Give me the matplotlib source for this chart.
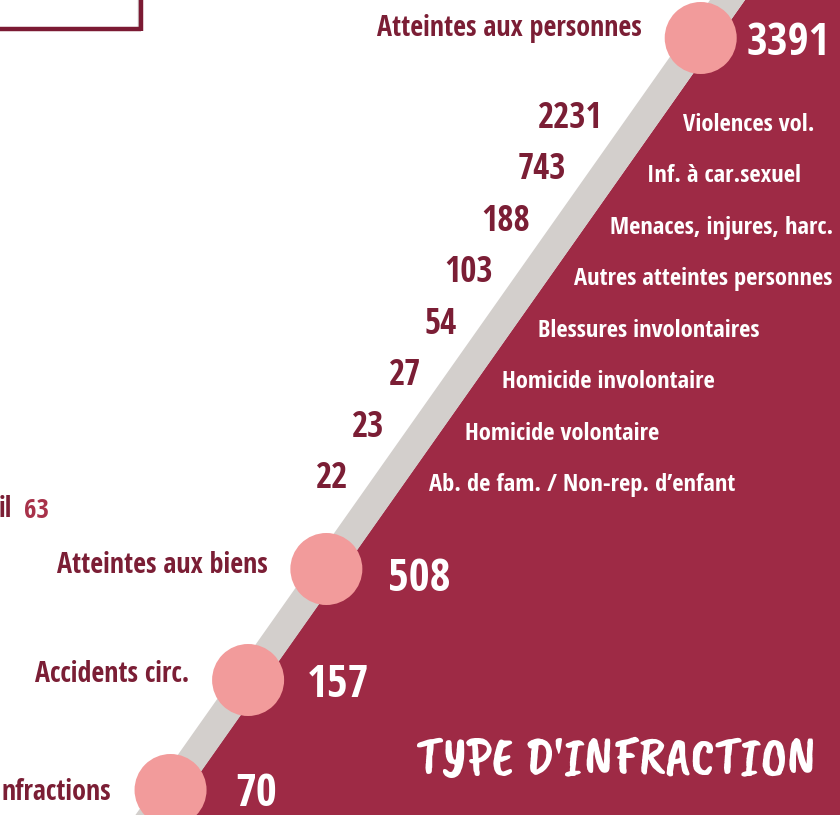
import numpy as np
import matplotlib.pyplot as plt
from matplotlib.patches import Polygon, Circle

# ---------------------------------------------------------------
# data
# ---------------------------------------------------------------
main_labels = ["Atteintes aux personnes", "Atteintes aux biens", "Accidents circ.", "nfractions"]
main_values = [3391, 508, 157, 70]

sub_labels = ["Violences vol.", "Inf. à car.sexuel", "Menaces, injures, harc.",
              "Autres atteintes personnes", "Blessures involontaires",
              "Homicide involontaire", "Homicide volontaire",
              "Ab. de fam. / Non-rep. d\u2019enfant"]
sub_values = [2231, 743, 188, 103, 54, 27, 23, 22]

side_label = "il"
side_value = 63
title = "TYPE D'INFRACTION"

# ---------------------------------------------------------------
# style
# ---------------------------------------------------------------
MAROON = "#9e2a45"
DARK = "#7b1e35"
GRAY = "#d3cfcc"
PINK = "#f29b9b"
RED = "#a8324a"

plt.rcParams["font.family"] = ["Open Sans Condensed", "DejaVu Sans"]

W, H = 840, 815
PX = 72 / 100  # px -> pt at dpi 100

# diagonal band: x of its right (maroon) edge at height y
band_top = 745
band_slope = 0.705
band_w = 35


def x_right(y):
    return band_top - band_slope * y


def x_center(y):
    return x_right(y) - band_w / 2


fig = plt.figure(figsize=(W / 100, H / 100), dpi=100)
ax = fig.add_axes([0, 0, 1, 1])
ax.set_xlim(0, W)
ax.set_ylim(H, 0)
ax.axis("off")

# maroon area and grey band
ax.add_patch(Polygon([(x_right(0), 0), (W, 0), (W, H), (x_right(H), H)],
                     closed=True, color=MAROON, lw=0))
ax.add_patch(Polygon([(x_right(0) - band_w, 0), (x_right(0), 0),
                      (x_right(H), H), (x_right(H) - band_w, H)],
                     closed=True, color=GRAY, lw=0))

# top-left frame corner
ax.plot([138, 138], [0, 27], color="#cfcaca", lw=1)
ax.plot([0, 141], [29, 29], color="#7b1a33", lw=3.2, solid_capstyle="butt")
ax.plot([141, 141], [0, 31], color="#7b1a33", lw=3.2, solid_capstyle="butt")

# main categories with circles
circle_y = [38, 569, 680, 790]
label_base = [36, 573, 682, 800]
num_base = [55, 591, 697, 806]
num_dx = [46, 62, 59, 65]
for lab, val, cy, lb, nb, dx in zip(main_labels, main_values, circle_y,
                                    label_base, num_base, num_dx):
    cx = x_center(cy)
    ax.add_patch(Circle((cx, cy), 36, color=PINK, lw=0, zorder=3))
    ax.text(cx - 59, lb, lab, ha="right", va="baseline", color=DARK,
            fontsize=28 * PX, fontweight="bold")
    ax.text(cx + dx, nb, str(val), ha="left", va="baseline", color="white",
            fontsize=45 * PX, fontweight="bold")

# sub categories of "Atteintes aux personnes"
sub_base = np.linspace(128, 488, len(sub_values))
for lab, val, yb in zip(sub_labels, sub_values, sub_base):
    ax.text(x_right(yb - 12) - band_w - 26, yb, str(val), ha="right", va="baseline",
            color=DARK, fontsize=35 * PX, fontweight="bold")
    ax.text(x_right(yb - 6) + 24, yb + 3, lab, ha="left", va="baseline",
            color="white", fontsize=24.5 * PX, fontweight="bold")

# cut-off item on the left
ax.text(-1, 517, side_label, ha="left", va="baseline", color=DARK,
        fontsize=28 * PX, fontweight="bold")
ax.text(24, 518, str(side_value), ha="left", va="baseline", color=RED,
        fontsize=27 * PX, fontweight="bold")

# title
ax.text(616, 762, title, ha="center", va="center", color="white",
        fontsize=54 * PX, family=["Caveat Brush", "DejaVu Sans"])

fig.savefig("out.png", dpi=100)
